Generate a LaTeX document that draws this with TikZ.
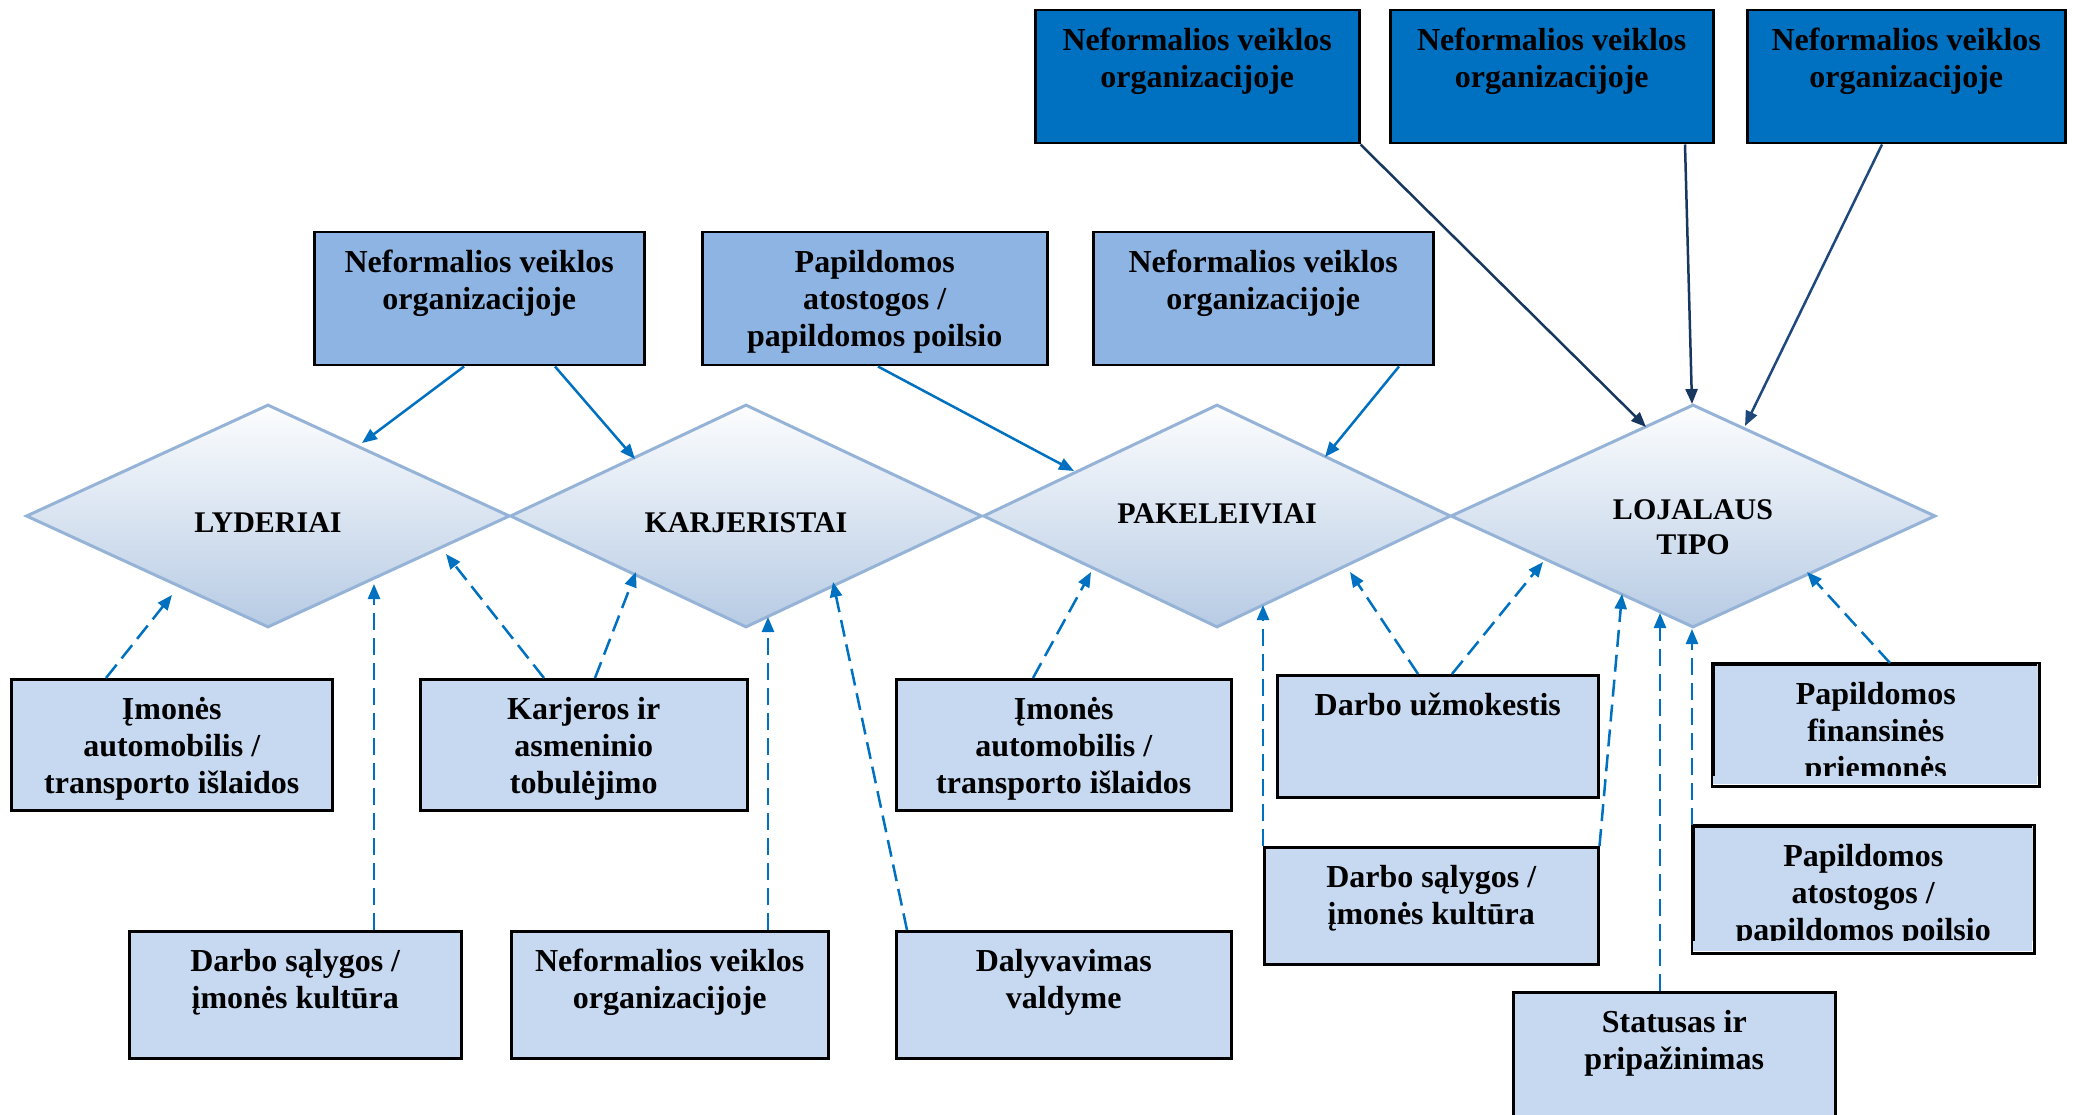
\documentclass[tikz,border=0pt]{standalone}
\usepackage{fontspec}
\setmainfont{Liberation Serif}
\usetikzlibrary{shapes.geometric,arrows.meta,calc}
\definecolor{darkbox}{HTML}{0070C0}
\definecolor{midbox}{HTML}{8EB4E3}
\definecolor{lowbox}{HTML}{C6D9F1}
\definecolor{diaborder}{HTML}{95B3D7}
\definecolor{diatop}{HTML}{FCFDFE}
\definecolor{diabot}{HTML}{B7CBE4}
\definecolor{arrowblue}{HTML}{0070C0}
\definecolor{navyA}{HTML}{17375E}
\definecolor{navyB}{HTML}{1F497D}
\newcommand\boxfont{\fontsize{32}{37}\selectfont\bfseries}
\newcommand\diafont{\fontsize{30}{35}\selectfont\bfseries}
\newcommand\bxt[1]{\parbox[t]{300pt}{\centering #1}}
\tikzset{
  bx/.style 2 args={draw=black, line width=2.5pt, inner sep=0pt, anchor=north west,
    minimum width=#1pt, text height=40pt, text depth=#2pt, font=\boxfont},
  dia/.style={diamond, aspect=2, draw=diaborder, line width=3pt, top color=diatop, bottom color=diabot,
    inner sep=0pt, minimum height=223pt, font=\diafont, text depth=0pt},
  arr/.style={-{Triangle[length=15pt,width=12pt]}, line width=2.5pt, draw=arrowblue},
  darr/.style={arr, dash pattern=on 17pt off 8pt},
}
\begin{document}
\begin{tikzpicture}[x=1pt,y=-1pt]
\useasboundingbox (0,0) rectangle (2073,1115);
\clip (0,0) rectangle (2073,1115);

% diamonds
\node[dia, minimum width=484pt, text height=33pt] (d1) at (268,516) {LYDERIAI};
\node[dia, minimum width=472pt, text height=33pt] (d2) at (746,516) {KARJERISTAI};
\node[dia, minimum width=468pt, text height=14pt] (d3) at (1217,516) {PAKELEIVIAI};
\node[dia, minimum width=485pt, text height=7pt] (d4) at (1693,516) {\parbox[t]{200pt}{\centering LOJALAUS\\TIPO}};

% top boxes
\node[bx={324}{93}, fill=darkbox] (t1) at (1034,9) {\bxt{Neformalios veiklos\\organizacijoje}};
\node[bx={323}{93}, fill=darkbox] (t2) at (1389,9) {\bxt{Neformalios veiklos\\organizacijoje}};
\node[bx={318}{93}, fill=darkbox] (t3) at (1746,9) {\bxt{Neformalios veiklos\\organizacijoje}};

% second row
\node[bx={330}{93}, fill=midbox] (s1) at (313,231) {\bxt{Neformalios veiklos\\organizacijoje}};
\node[bx={345}{93}, fill=midbox] (s2) at (701,231) {\bxt{Papildomos\\atostogos /\\papildomos poilsio}};
\node[bx={340}{93}, fill=midbox] (s3) at (1092,231) {\bxt{Neformalios veiklos\\organizacijoje}};

% lower boxes
\node[bx={321}{91}, fill=lowbox] (b1) at (10,678) {\bxt{Įmonės\\automobilis /\\transporto išlaidos}};
\node[bx={327}{91}, fill=lowbox] (b2) at (419,678) {\bxt{Karjeros ir\\asmeninio\\tobulėjimo}};
\node[bx={335}{91}, fill=lowbox] (b3) at (895,678) {\bxt{Įmonės\\automobilis /\\transporto išlaidos}};
\node[bx={321}{82}, fill=lowbox] (b4) at (1276,674) {\bxt{Darbo užmokestis}};
\fill[lowbox] (1712,663) rectangle (2037,784);
\begin{scope}
\clip (1712,663) rectangle (2037,775);
\node[bx={325}{81}, fill=lowbox] (b5) at (1712,663) {\bxt{Papildomos\\finansinės\\priemonės}};
\end{scope}
\draw[black, line width=2.5pt] (b5.north west) rectangle (b5.south east);

\node[bx={332}{87}, fill=lowbox] (c1) at (128,930) {\bxt{Darbo sąlygos /\\įmonės kultūra}};
\node[bx={317}{87}, fill=lowbox] (c2) at (510,930) {\bxt{Neformalios veiklos\\organizacijoje}};
\node[bx={335}{87}, fill=lowbox] (c3) at (895,930) {\bxt{Dalyvavimas\\valdyme}};
\node[bx={334}{77}, fill=lowbox] (c4) at (1263,846) {\bxt{Darbo sąlygos /\\įmonės kultūra}};
\fill[lowbox] (1692,825) rectangle (2032,951);
\begin{scope}
\clip (1692,825) rectangle (2032,940);
\node[bx={340}{86}, fill=lowbox] (c5) at (1692,825) {\bxt{Papildomos\\atostogos /\\papildomos poilsio}};
\end{scope}
\draw[black, line width=2.5pt] (c5.north west) rectangle (c5.south east);
\node[bx={322}{110}, fill=lowbox] (c6) at (1512,991) {\bxt{Statusas ir\\pripažinimas}};

% solid arrows
\draw[arr] ($(s1.south west)+(151,0)$) -- ($(d1.center)+(94,-73)$);
\draw[arr] ($(s1.south west)+(242,0)$) -- ($(d2.center)+(-111,-57)$);
\draw[arr] ($(s2.south west)+(177,0)$) -- ($(d3.center)+(-143,-45)$);
\draw[arr] ($(s3.south west)+(307,0)$) -- ($(d3.center)+(108,-59)$);
\draw[arr, draw=navyA] (t1.south east) -- ($(d4.center)+(-47,-89)$);
\draw[arr, draw=navyA] ($(t2.south west)+(296,0)$) -- ($(d4.center)+(-1,-112)$);
\draw[arr, draw=navyB] ($(t3.south west)+(136,0)$) -- ($(d4.center)+(52,-90)$);

% dashed arrows
\draw[darr] ($(b1.north west)+(96,0)$) -- ($(d1.center)+(-96,79)$);
\draw[darr] ($(c1.north west)+(246,0)$) -- ($(d1.center)+(106,68)$);
\draw[darr] ($(b2.north west)+(125,0)$) -- ($(d1.center)+(178,38)$);
\draw[darr] ($(b2.north west)+(176,0)$) -- ($(d2.center)+(-110,56)$);
\draw[darr] ($(c2.north west)+(258,0)$) -- ($(d2.center)+(22,101)$);
\draw[darr] ($(c3.north west)+(12,0)$) -- ($(d2.center)+(87,66)$);
\draw[darr] ($(b3.north west)+(138,0)$) -- ($(d3.center)+(-126,56)$);
\draw[darr] (c4.north west) -- ($(d3.center)+(46,89)$);
\draw[darr] ($(b4.north west)+(142,0)$) -- ($(d3.center)+(133,56)$);
\draw[darr] ($(b4.north west)+(176,0)$) -- ($(d4.center)+(-150,46)$);
\draw[darr] (c4.north east) -- ($(d4.center)+(-71,78)$);
\draw[darr] ($(c6.north west)+(148,0)$) -- ($(d4.center)+(-33,97)$);
\draw[darr] (c5.north west) -- ($(d4.center)+(-1,113)$);
\draw[darr] ($(b5.north west)+(178,0)$) -- ($(d4.center)+(114,56)$);
\end{tikzpicture}
\end{document}
